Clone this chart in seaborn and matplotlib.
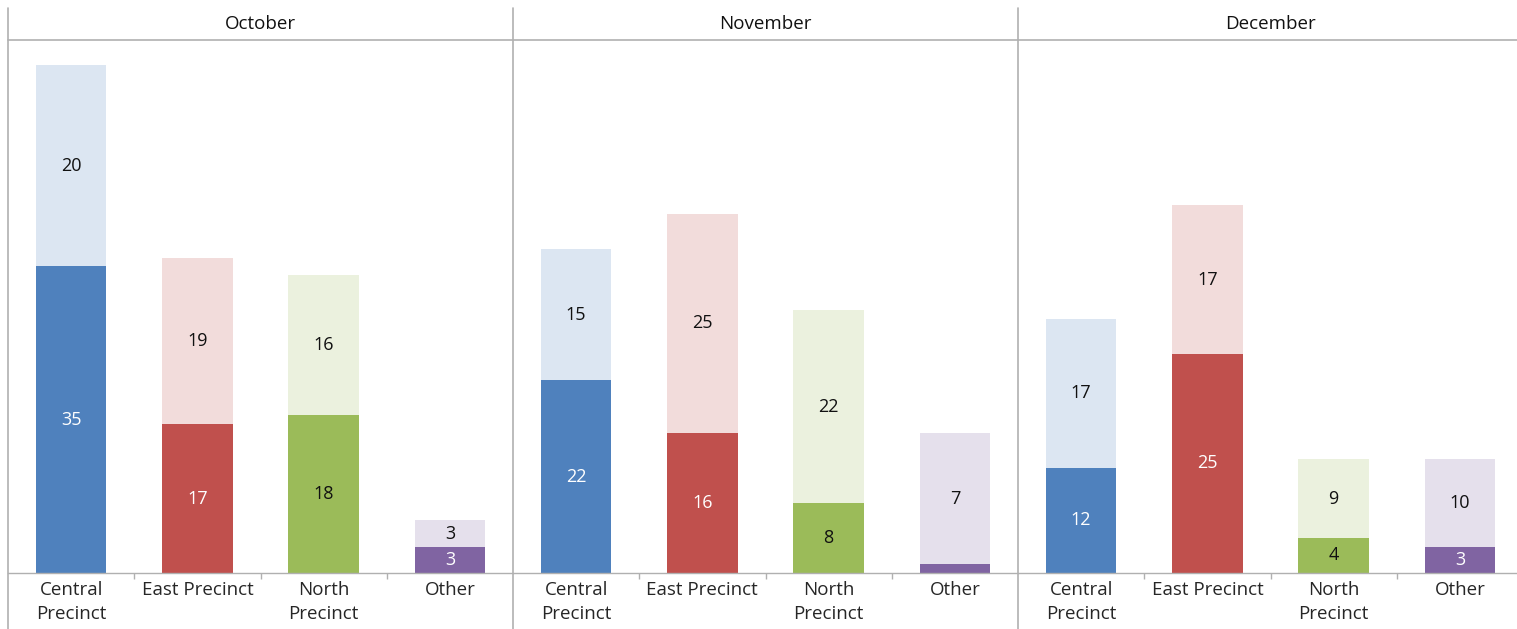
import matplotlib
matplotlib.use("Agg")
import matplotlib.pyplot as plt
from matplotlib.lines import Line2D
import seaborn as sns
import pandas as pd

months = ["October", "November", "December"]
categories = ["Central\nPrecinct", "East Precinct", "North\nPrecinct", "Other"]

# bar segment heights (as drawn)
oct_base = [35, 17, 18, 3]
oct_top = [23, 19, 16, 3]
nov_base = [22, 16, 8, 1]
nov_top = [15, 25, 22, 15]
dec_base = [12, 25, 4, 3]
dec_top = [17, 17, 9, 10]

# data label texts (as printed)
oct_base_labels = ["35", "17", "18", "3"]
oct_top_labels = ["20", "19", "16", "3"]
nov_base_labels = ["22", "16", "8", ""]
nov_top_labels = ["15", "25", "22", "7"]
dec_base_labels = ["12", "25", "4", "3"]
dec_top_labels = ["17", "17", "9", "10"]

dark_colors = ["#4F81BD", "#C0504D", "#9BBB59", "#8064A2"]
light_colors = ["#DCE6F2", "#F2DCDB", "#EBF1DE", "#E5E0EC"]
txt = "#111111"
dark_text = ["white", "white", txt, "white"]

sns.set_theme(style="white")
plt.rcParams["font.family"] = ["Open Sans", "DejaVu Sans"]

W, H = 1517, 629
fig = plt.figure(figsize=(W / 100, H / 100), dpi=100)

left_px = 8
pw = 505
top_px, base_px = 40, 573
gray = "#b0b0b0"

panels = [
    (oct_base, oct_top, oct_base_labels, oct_top_labels),
    (nov_base, nov_top, nov_base_labels, nov_top_labels),
    (dec_base, dec_top, dec_base_labels, dec_top_labels),
]

for i, (month, (base, top, bl, tl)) in enumerate(zip(months, panels)):
    x0 = left_px + i * pw
    ax = fig.add_axes([x0 / W, (H - base_px) / H, pw / W, (base_px - top_px) / H])
    df = pd.DataFrame({
        "cat": categories,
        "base": base,
        "total": [b + t for b, t in zip(base, top)],
    })
    sns.barplot(data=df, x="cat", y="total", hue="cat", palette=light_colors,
                width=0.56, saturation=1, legend=False, ax=ax, linewidth=0)
    sns.barplot(data=df, x="cat", y="base", hue="cat", palette=dark_colors,
                width=0.56, saturation=1, legend=False, ax=ax, linewidth=0)
    for j in range(4):
        if bl[j]:
            ax.text(j, base[j] / 2, bl[j], ha="center", va="center",
                    fontsize=13, color=dark_text[j])
        if tl[j]:
            ax.text(j, base[j] + top[j] / 2, tl[j], ha="center", va="center",
                    fontsize=13, color=txt)
    ax.set_ylim(0, (base_px - top_px) / 8.76)
    ax.set_xlim(-0.5, 3.5)
    ax.set_xlabel("")
    ax.set_ylabel("")
    ax.set_yticks([])
    ax.set_xticks(range(4))
    ax.set_xticklabels(categories, fontsize=13.5, color="#262626")
    for lab in ax.get_xticklabels():
        lab.set_linespacing(1.4)
    ax.tick_params(axis="x", which="major", length=0, pad=6)
    ax.set_xticks([0.5, 1.5, 2.5], minor=True)
    ax.tick_params(axis="x", which="minor", length=4, color=gray, width=1,
                   direction="out", bottom=True)
    for s in ["left", "right", "top"]:
        ax.spines[s].set_visible(False)
    ax.spines["bottom"].set_color(gray)
    ax.spines["bottom"].set_linewidth(1)
    fig.text((x0 + pw / 2) / W, 1 - 24 / H, month, ha="center", va="center",
             fontsize=13.5, color=txt)

# panel separators and header line
for k in range(3):
    xx = (left_px + k * pw) / W
    fig.add_artist(Line2D([xx, xx], [0, 1 - 8 / H], color=gray, lw=1.2))
fig.add_artist(Line2D([left_px / W, 1], [1 - top_px / H, 1 - top_px / H],
                      color=gray, lw=1.2))

fig.savefig("out.png", dpi=100)
